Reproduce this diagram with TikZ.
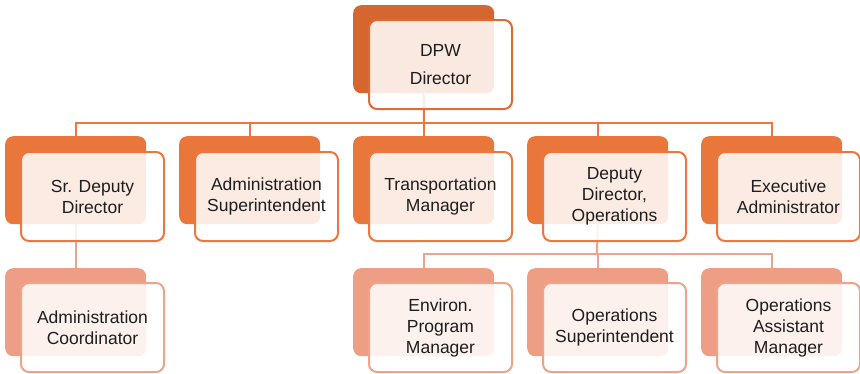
\documentclass[tikz,border=0pt]{standalone}
\usepackage{fontspec}
\setmainfont{Liberation Sans}
\definecolor{bkA}{HTML}{D6662F}
\definecolor{bkB}{HTML}{E9763B}
\definecolor{bkC}{HTML}{EE9E85}
\definecolor{lnA}{HTML}{DB6C36}
\definecolor{lnB}{HTML}{EA7840}
\definecolor{lnC}{HTML}{F0A387}
\definecolor{txt}{HTML}{1E1E1E}
\begin{document}
\begin{tikzpicture}[x=1pt,y=-1pt]
\tikzset{
  back/.style={rounded corners=8pt, minimum width=141pt, minimum height=88pt, anchor=north west, inner sep=0pt, draw=none},
  front/.style={rounded corners=8pt, minimum width=143pt, minimum height=89pt, anchor=north west, inner sep=0pt, fill=white, fill opacity=0.86, text opacity=1, line width=2pt, align=center, text=txt, font=\fontsize{17.5}{21}\selectfont},
  conn/.style={line width=2pt}
}
\useasboundingbox (0,0) rectangle (860,373);
% back boxes
\node[back, fill=bkA] (dpwb) at (353,5) {};
\node[back, fill=bkB] (c1b) at (5,136) {};
\node[back, fill=bkB] (c2b) at (179,136) {};
\node[back, fill=bkB] (c3b) at (353,136) {};
\node[back, fill=bkB] (c4b) at (527,136) {};
\node[back, fill=bkB] (c5b) at (701,136) {};
\node[back, fill=bkC] (d1b) at (5,268) {};
\node[back, fill=bkC] (d3b) at (353,268) {};
\node[back, fill=bkC] (d4b) at (527,268) {};
\node[back, fill=bkC] (d5b) at (701,268) {};
% connectors
\coordinate (bus1) at (424,123);
\coordinate (bus2) at (597,254);
\draw[conn, draw=lnB] (dpwb.south) -- (bus1);
\draw[conn, draw=lnB] (c1b.north) |- (bus1) -| (c5b.north);
\draw[conn, draw=lnB] (c2b.north) -- (c2b.north |- bus1);
\draw[conn, draw=lnB] (c3b.north) -- (c3b.north |- bus1);
\draw[conn, draw=lnB] (c4b.north) -- (c4b.north |- bus1);
\draw[conn, draw=lnC] (c1b.south) -- (d1b.north);
\draw[conn, draw=lnC] (c4b.south) -- (bus2);
\draw[conn, draw=lnC] (d3b.north) |- (bus2) -| (d5b.north);
\draw[conn, draw=lnC] (d4b.north) -- (d4b.north |- bus2);
% front boxes
\node[front, draw=lnA, font=\fontsize{17.5}{28}\selectfont] (dpw) at (368,19) {DPW\\Director};
\node[front, draw=lnB] (c1) at (20,151) {Sr. Deputy\\Director};
\node[front, draw=lnB] (c2) at (194,151) {Administration\\Superintendent};
\node[front, draw=lnB] (c3) at (368,151) {Transportation\\Manager};
\node[front, draw=lnB] (c4) at (542,151) {Deputy\\Director,\\Operations};
\node[front, draw=lnB] (c5) at (716,151) {Executive\\Administrator};
\node[front, draw=lnC] (d1) at (20,282) {Administration\\Coordinator};
\node[front, draw=lnC] (d3) at (368,282) {Environ.\\Program\\Manager};
\node[front, draw=lnC] (d4) at (542,282) {Operations\\Superintendent};
\node[front, draw=lnC] (d5) at (716,282) {Operations\\Assistant\\Manager};
\end{tikzpicture}
\end{document}
